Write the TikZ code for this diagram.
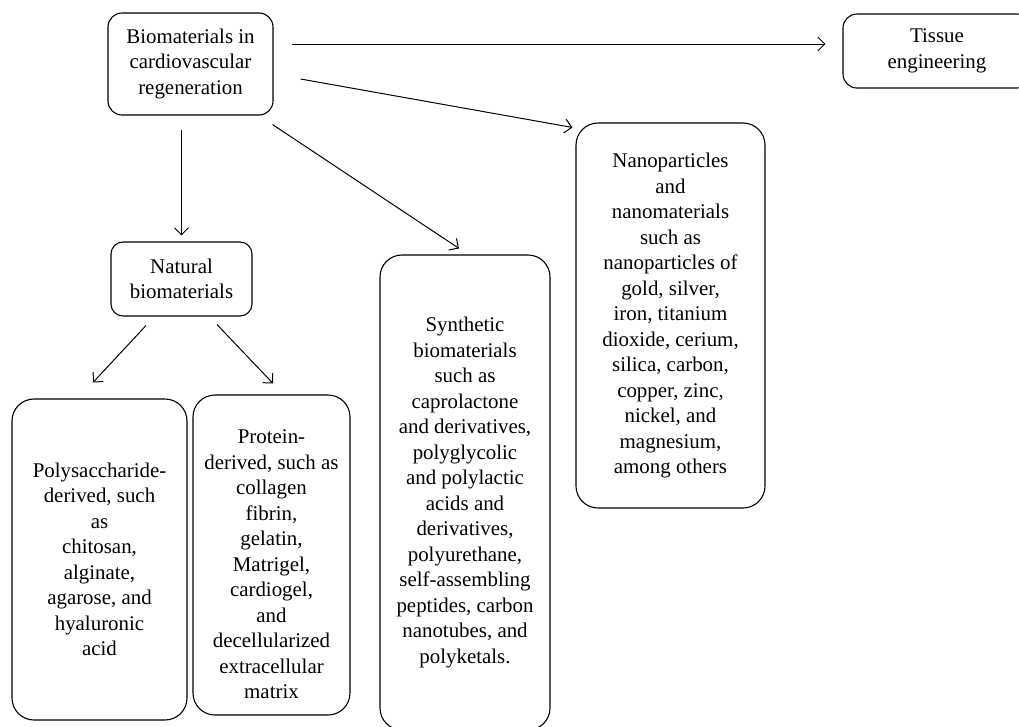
\documentclass[tikz,border=0pt]{standalone}
\usepackage{fontspec}
\setmainfont{Liberation Serif}
\usetikzlibrary{arrows.meta}

\tikzset{
	box/.style={draw, line width=1.1pt, rounded corners=14pt, align=center,
		inner sep=2pt, font=\fontsize{20.9}{25.5}\selectfont},
	tallbox/.style={box, rounded corners=22pt},
	arr/.style={line width=1pt, -{Straight Barb[length=7pt,width=14pt,line width=1pt]}}
}

\begin{document}
\begin{tikzpicture}[x=1pt, y=-1pt]
	\clip (0,0) rectangle (1019,726);
	% boxes
	\node[box, minimum width=165pt, minimum height=102pt] (bio) at (190.5,64) {Biomaterials in\\cardiovascular\\regeneration};
	\node[box, minimum width=188pt, minimum height=74pt] (tissue) at (937,51) {Tissue\\engineering};
	\node[box, minimum width=141pt, minimum height=74pt, rounded corners=12pt] (nat) at (181.5,279) {Natural\\biomaterials};
	\node[tallbox, minimum width=175pt, minimum height=321pt] (poly) at (99.5,559.5) {Polysaccharide-\\derived, such\\as\\chitosan,\\alginate,\\agarose, and\\hyaluronic\\acid};
	\node[tallbox, minimum width=157pt, minimum height=320pt] (prot) at (271.5,555) {\rule{0pt}{33pt}Protein-\\derived, such as\\collagen\\fibrin,\\gelatin,\\Matrigel,\\cardiogel,\\and\\decellularized\\extracellular\\matrix};
	\node[tallbox, minimum width=170pt, minimum height=475pt] (syn) at (465,492.5) {Synthetic\\biomaterials\\such as\\caprolactone\\and derivatives,\\polyglycolic\\and polylactic\\acids and\\derivatives,\\polyurethane,\\self-assembling\\peptides, carbon\\nanotubes, and\\polyketals.};
	\node[tallbox, minimum width=189pt, minimum height=385pt] (nano) at (670.5,315.5) {Nanoparticles\\and\\nanomaterials\\such as\\nanoparticles of\\gold, silver,\\iron, titanium\\dioxide, cerium,\\silica, carbon,\\copper, zinc,\\nickel, and\\magnesium,\\among others};
	% arrows
	\draw[arr] ([shift={(18,-20)}]bio.east) -- ([shift={(-17,-7)}]tissue.west);
	\draw[arr] ([shift={(27,15)}]bio.east) -- ([shift={(-3,5)}]nano.north west);
	\draw[arr, shorten <=14pt, shorten >=6pt] (nat.north |- bio.south) -- (nat.north);
	\draw[arr] ([shift={(-1,9)}]bio.south east) -- ([shift={(-6,-6)}]syn.north);
	\draw[arr] ([shift={(-35.5,9)}]nat.south) -- ([shift={(-6.5,-16)}]poly.north);
	\draw[arr] ([shift={(35.5,8)}]nat.south) -- ([shift={(1.5,-11)}]prot.north);
\end{tikzpicture}
\end{document}
